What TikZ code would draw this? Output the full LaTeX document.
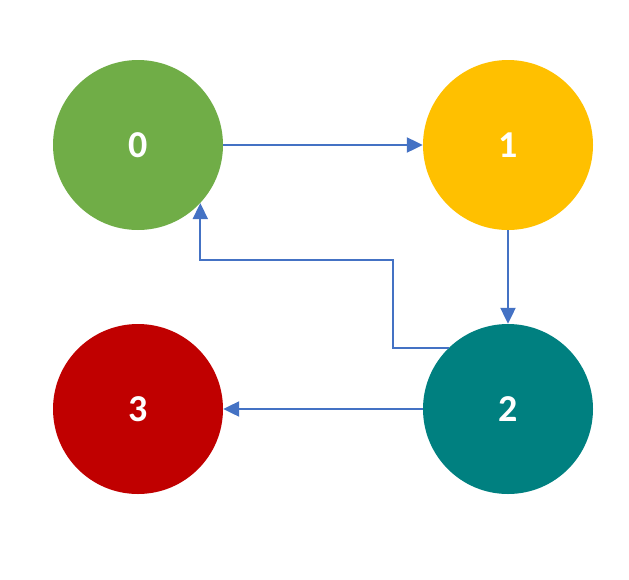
\documentclass[tikz,border=0pt]{standalone}
\usepackage{fontspec}
\setmainfont{Carlito}
\usetikzlibrary{arrows.meta}
\definecolor{cgreen}{HTML}{70AD47}
\definecolor{cyellow}{HTML}{FFC000}
\definecolor{cred}{HTML}{C00000}
\definecolor{cteal}{HTML}{008080}
\definecolor{cblue}{HTML}{4472C4}
\begin{document}
\begin{tikzpicture}[x=1pt,y=-1pt,
  vertex/.style={circle,draw=none,minimum size=170pt,inner sep=0pt,
    text=white,font=\fontsize{38}{42}\selectfont\bfseries},
  arr/.style={draw=cblue,line width=2.2pt,-{Triangle[length=16pt,width=15pt]}}]
\useasboundingbox (0,0) rectangle (629,579);
\node[vertex,fill=cgreen]  (c0) at (138,145) {0};
\node[vertex,fill=cyellow] (c1) at (508,145) {1};
\node[vertex,fill=cteal]   (c2) at (508,409) {2};
\node[vertex,fill=cred]    (c3) at (138,409) {3};
\coordinate (k1) at (393,260);
\draw[arr] (c0) -- (c1);
\draw[arr] (c1) -- (c2);
\draw[arr] (c2) -- (c3);
\draw[arr] (c2.134) -| (k1) -| (c0.-43);
\end{tikzpicture}
\end{document}
